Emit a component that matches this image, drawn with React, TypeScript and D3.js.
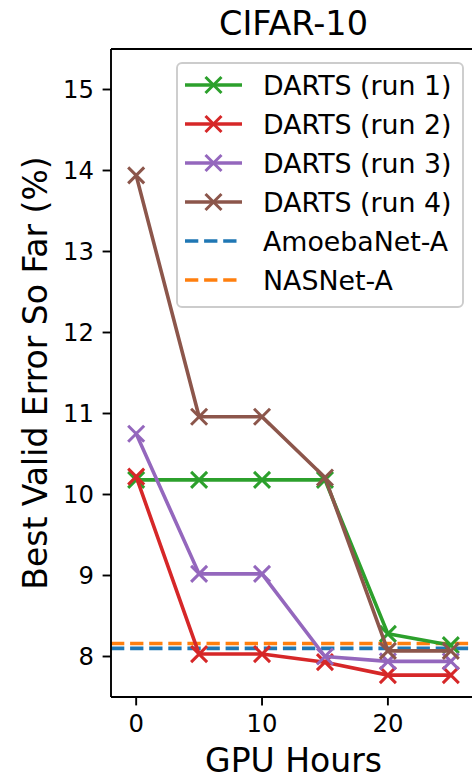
import React from "react";
import * as d3 from "d3";

const hours = [0, 5, 10, 15, 20, 25];
const run1 = [10.18, 10.18, 10.18, 10.18, 8.28, 8.14];
const run2 = [10.22, 8.03, 8.03, 7.93, 7.77, 7.77];
const run3 = [10.75, 9.02, 9.02, 8.0, 7.94, 7.94];
const run4 = [13.94, 10.96, 10.96, 10.21, 8.07, 8.07];
const amoebaNet = 8.1;
const nasNet = 8.16;
const xTicks = [0, 10, 20];
const yTicks = [8, 9, 10, 11, 12, 13, 14, 15];

const runNames = ["DARTS (run 1)", "DARTS (run 2)", "DARTS (run 3)", "DARTS (run 4)"];
const runColors = ["#2ca02c", "#d62728", "#9467bd", "#8c564b"];
const refNames = ["AmoebaNet-A", "NASNet-A"];
const refColors = ["#1f77b4", "#ff7f0e"];

const W = 472;
const H = 778;
const FONT = "DejaVu Sans, sans-serif";

export default function App() {
  const left = 111;
  const right = 476;
  const top = 49;
  const bottom = 697;
  const x = d3.scaleLinear().domain([-2, 27]).range([left, right]);
  const y = d3.scaleLinear().domain([7.5, 15.5]).range([bottom, top]);
  const runs = [run1, run2, run3, run4];
  const refs = [amoebaNet, nasNet];
  const line = d3
    .line<[number, number]>()
    .x((d) => x(d[0]))
    .y((d) => y(d[1]));

  const lw = 3.6;
  const ms = 8;
  const marker = (cx: number, cy: number, color: string, key: string) => (
    <path
      key={key}
      d={`M${cx - ms},${cy - ms}L${cx + ms},${cy + ms}M${cx - ms},${cy + ms}L${cx + ms},${cy - ms}`}
      stroke={color}
      strokeWidth={3}
      fill="none"
    />
  );

  const legL = 177;
  const legT = 63;
  const legR = 463;
  const legB = 307;
  const rowBase = (i: number) => 95 + i * 39;

  return (
    <svg
      width={W}
      height={H}
      style={{ position: "absolute", left: 0, top: 0, background: "#fff" }}
      fontFamily={FONT}
    >
      <defs>
        <clipPath id="plotclip">
          <rect x={left} y={top} width={right - left} height={bottom - top} />
        </clipPath>
      </defs>
      <rect x={0} y={0} width={W} height={H} fill="#fff" />
      <text x={(left + right) / 2} y={35} fontSize={33.5} textAnchor="middle" fill="#000">
        CIFAR-10
      </text>
      <g clipPath="url(#plotclip)">
        {refs.map((v, i) => (
          <line
            key={"ref" + i}
            x1={left}
            x2={right}
            y1={y(v)}
            y2={y(v)}
            stroke={refColors[i]}
            strokeWidth={lw}
            strokeDasharray="13.3,5.8"
          />
        ))}
        {runs.map((r, i) => (
          <g key={"run" + i}>
            <path
              d={line(hours.map((h, j) => [h, r[j]] as [number, number])) || ""}
              stroke={runColors[i]}
              strokeWidth={lw}
              fill="none"
              strokeLinejoin="round"
              strokeLinecap="square"
            />
            {hours.map((h, j) => marker(x(h), y(r[j]), runColors[i], `m${i}-${j}`))}
          </g>
        ))}
      </g>
      {/* spines */}
      <line x1={left} x2={left} y1={top} y2={bottom} stroke="#000" strokeWidth={1.9} />
      <line x1={left} x2={right} y1={bottom} y2={bottom} stroke="#000" strokeWidth={1.9} />
      <line x1={left} x2={right} y1={top} y2={top} stroke="#000" strokeWidth={1.9} />
      <line x1={right} x2={right} y1={top} y2={bottom} stroke="#000" strokeWidth={1.9} />
      {/* y ticks */}
      {yTicks.map((t) => (
        <g key={"yt" + t}>
          <line x1={left - 8.4} x2={left} y1={y(t)} y2={y(t)} stroke="#000" strokeWidth={1.9} />
          <text x={left - 17} y={y(t)} dy="0.36em" fontSize={24.3} textAnchor="end" fill="#000">
            {t}
          </text>
        </g>
      ))}
      {/* x ticks */}
      {xTicks.map((t) => (
        <g key={"xt" + t}>
          <line x1={x(t)} x2={x(t)} y1={bottom} y2={bottom + 8.4} stroke="#000" strokeWidth={1.9} />
          <text x={x(t)} y={732} fontSize={24.3} textAnchor="middle" fill="#000">
            {t}
          </text>
        </g>
      ))}
      <text x={(left + right) / 2} y={771.5} fontSize={33} textAnchor="middle" fill="#000">
        GPU Hours
      </text>
      <text
        transform={`translate(46.5,${(top + bottom) / 2}) rotate(-90)`}
        fontSize={33}
        textAnchor="middle"
        fill="#000"
      >
        Best Valid Error So Far (%)
      </text>
      {/* legend */}
      <rect
        x={legL}
        y={legT}
        width={legR - legL}
        height={legB - legT}
        rx={5}
        ry={5}
        fill="#fff"
        fillOpacity={0.8}
        stroke="#cccccc"
        strokeWidth={1.9}
      />
      {runNames.map((n, i) => {
        const cy = rowBase(i) - 10;
        return (
          <g key={"leg" + i}>
            <line x1={185} x2={242} y1={cy} y2={cy} stroke={runColors[i]} strokeWidth={lw} />
            {marker(213.5, cy, runColors[i], "lm" + i)}
            <text x={263} y={rowBase(i)} fontSize={26.8} fill="#000">
              {n}
            </text>
          </g>
        );
      })}
      {refNames.map((n, k) => {
        const i = k + 4;
        const cy = rowBase(i) - 10;
        return (
          <g key={"legr" + k}>
            <line
              x1={185}
              x2={242}
              y1={cy}
              y2={cy}
              stroke={refColors[k]}
              strokeWidth={lw}
              strokeDasharray="13.3,5.8"
            />
            <text x={263} y={rowBase(i)} fontSize={26.8} fill="#000">
              {n}
            </text>
          </g>
        );
      })}
    </svg>
  );
}
